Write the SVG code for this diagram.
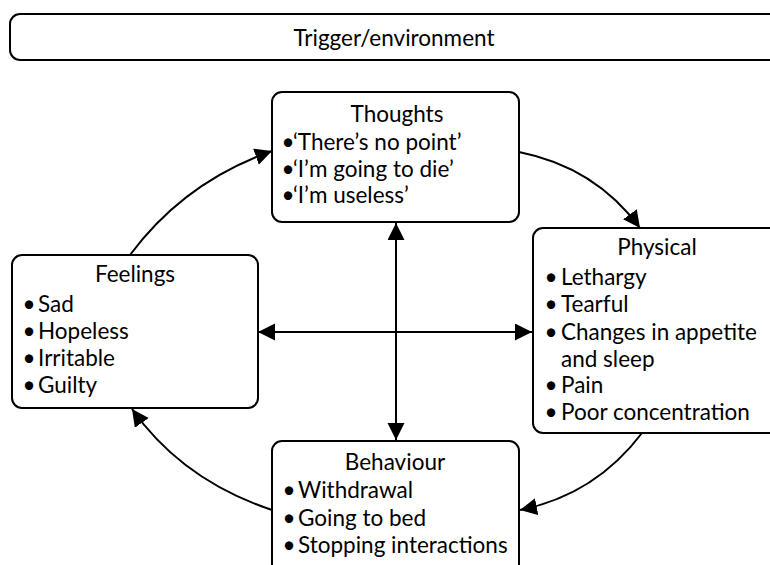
<svg xmlns="http://www.w3.org/2000/svg" width="770" height="565" viewBox="0 0 770 565">
  <style>
    .box { fill: #ffffff; stroke: #000000; stroke-width: 2; }
    .title { font-family: Lato, "Liberation Sans", sans-serif; font-size: 22.5px; fill: #000000; text-anchor: middle; }
    .item { font-family: Lato, "Liberation Sans", sans-serif; font-size: 22.5px; fill: #000000; text-anchor: middle; }
    .txt { text-anchor: start; }
    .link { fill: none; stroke: #000000; stroke-width: 2; }
  </style>
  <defs>
    <marker id="head" markerUnits="userSpaceOnUse" markerWidth="18" markerHeight="18" refX="17" refY="8.5" orient="auto-start-reverse">
      <path d="M0,0 L17,8.5 L0,17 z" fill="#000000"/>
    </marker>
  </defs>
  <rect width="770" height="565" fill="#ffffff"/>

  <!-- banner across the top -->
  <g id="trigger">
    <rect class="box" x="10" y="14" width="780" height="46" rx="10"/>
    <text class="title" x="394" y="46">Trigger/environment</text>
  </g>

  <!-- connectors -->
  <g id="connectors">
    <line class="link" x1="396" y1="223" x2="396" y2="440" marker-start="url(#head)" marker-end="url(#head)"/>
    <line class="link" x1="258" y1="332" x2="532" y2="332" marker-start="url(#head)" marker-end="url(#head)"/>
    <path class="link" d="M130,255 Q184,182 272,151" marker-end="url(#head)"/>
    <path class="link" d="M519,152 Q595,167 640,228" marker-end="url(#head)"/>
    <path class="link" d="M642,433 Q595,495 520,510" marker-end="url(#head)"/>
    <path class="link" d="M272,510 Q182,480 132,409" marker-end="url(#head)"/>
  </g>

  <!-- bulleted lines: bullet centred on x, item text starting at the second x -->
  <g id="thoughts">
    <rect class="box" x="272" y="92" width="247" height="130" rx="10"/>
    <text class="title" x="397" y="122">Thoughts</text>
    <text class="item" x="288" y="150"><tspan>•</tspan><tspan class="txt" x="293">‘There’s no point’</tspan></text>
    <text class="item" x="288" y="177"><tspan>•</tspan><tspan class="txt" x="293">‘I’m going to die’</tspan></text>
    <text class="item" x="288" y="203"><tspan>•</tspan><tspan class="txt" x="293">‘I’m useless’</tspan></text>
  </g>

  <g id="physical">
    <rect class="box" x="533" y="228" width="260" height="205" rx="10"/>
    <text class="title" x="657" y="255">Physical</text>
    <text class="item" x="551" y="285"><tspan>•</tspan><tspan class="txt" x="561">Lethargy</tspan></text>
    <text class="item" x="551" y="312"><tspan>•</tspan><tspan class="txt" x="561">Tearful</tspan></text>
    <text class="item" x="551" y="340"><tspan>•</tspan><tspan class="txt" x="561">Changes in appetite</tspan></text>
    <text class="item txt" x="561" y="367">and sleep</text>
    <text class="item" x="551" y="393"><tspan>•</tspan><tspan class="txt" x="561">Pain</tspan></text>
    <text class="item" x="551" y="420"><tspan>•</tspan><tspan class="txt" x="561">Poor concentration</tspan></text>
  </g>

  <g id="feelings">
    <rect class="box" x="12" y="255" width="246" height="153" rx="10"/>
    <text class="title" x="135" y="282">Feelings</text>
    <text class="item" x="29" y="312"><tspan>•</tspan><tspan class="txt" x="38">Sad</tspan></text>
    <text class="item" x="29" y="339"><tspan>•</tspan><tspan class="txt" x="38">Hopeless</tspan></text>
    <text class="item" x="29" y="366"><tspan>•</tspan><tspan class="txt" x="38">Irritable</tspan></text>
    <text class="item" x="29" y="393"><tspan>•</tspan><tspan class="txt" x="38">Guilty</tspan></text>
  </g>

  <g id="behaviour">
    <rect class="box" x="272" y="441" width="247" height="140" rx="10"/>
    <text class="title" x="395" y="470">Behaviour</text>
    <text class="item" x="289" y="498"><tspan>•</tspan><tspan class="txt" x="298">Withdrawal</tspan></text>
    <text class="item" x="289" y="526"><tspan>•</tspan><tspan class="txt" x="298">Going to bed</tspan></text>
    <text class="item" x="289" y="553"><tspan>•</tspan><tspan class="txt" x="298">Stopping interactions</tspan></text>
  </g>
</svg>
